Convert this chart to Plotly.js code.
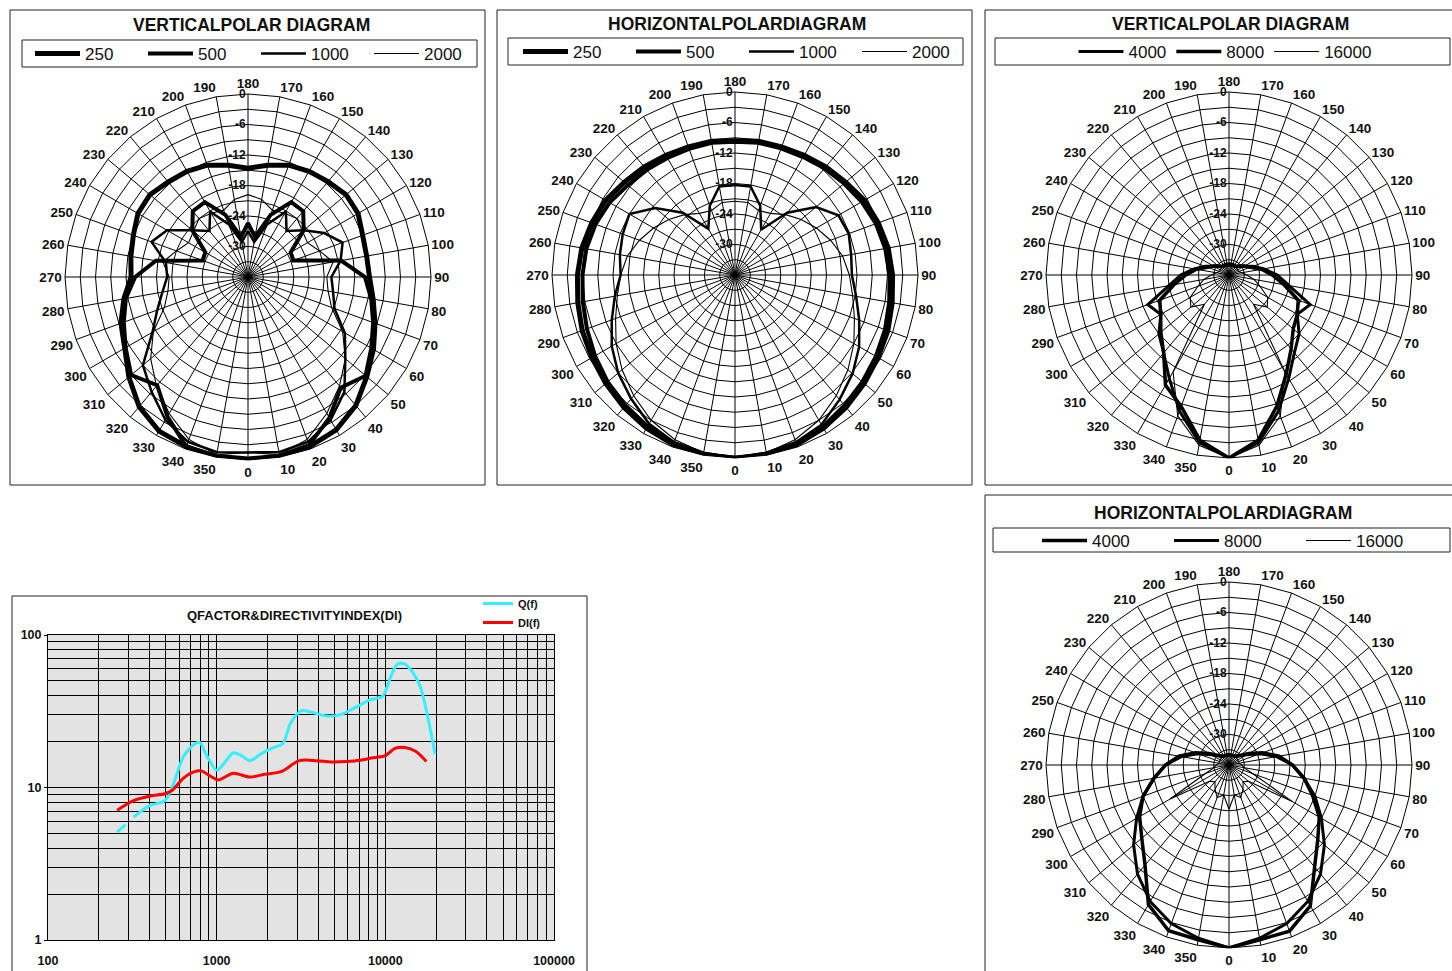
<!DOCTYPE html>
<html><head><meta charset="utf-8">
<script src="https://cdn.plot.ly/plotly-3.0.1.min.js"></script>
<style>html,body{margin:0;padding:0;background:#fff;overflow:hidden}#chart{width:1452px;height:971px}</style>
</head><body><div id="chart"></div>
<script>
// ---------- data ----------
const ANGLES = ['0','10','20','30','40','50','60','70','80','90','100','110','120','130','140','150','160','170',
  '180','190','200','210','220','230','240','250','260','270','280','290','300','310','320','330','340','350'];
const RADIAL_TICKS = [-36,-33,-30,-27,-24,-21,-18,-15,-12,-9,-6,-3,0];
const RADIAL_LABELS = ['','','-30','','-24','','-18','','-12','','-6','','0'];
const LOW_FREQS = ['250','500','1000','2000'];
const HIGH_FREQS = ['4000','8000','16000'];

// Vertical polar, low frequencies (dB)
const VP_250  = [0,0,-0.5,-1.3,-3,-5.5,-7.5,-9.4,-11,-12.1,-12.3,-12,-11,-10.8,-11.5,-12,-12.6,-13.7,-14.6,-13.7,-12.6,-12,-11.6,-10.8,-11,-12,-12.6,-13,-11.2,-9.4,-8,-5.4,-2.7,-1,-0.5,0];
const VP_500  = [-0.3,-0.3,-0.8,-4,-7.6,-5.8,-8,-9.8,-11.4,-13,-17.4,-26.5,-26.3,-21.7,-19.1,-19,-23,-28,-25.4,-28,-23,-19,-19.1,-21.7,-26.3,-26.5,-17.6,-13.8,-11.6,-10,-8.2,-6,-8.2,-4.3,-0.5,-0.3];
const VP_1000 = [-1.5,-1,-1.5,-3.5,-6.5,-11,-14,-17.9,-19,-19.6,-17.5,-16.2,-18.7,-21.7,-24.2,-21.1,-25,-29,-27,-29,-25,-21.1,-24.2,-21.7,-17.6,-15.8,-19.6,-20.1,-18.9,-17,-14.3,-9,-6.5,-3.5,-1.5,-1];
const VP_2000 = [-1.5,-0.5,-2,-5,-8,-11,-14.5,-18.5,-20,-20.5,-19,-21,-22.5,-22,-21,-21.5,-22,-20.5,-19.8,-20.5,-22,-21.5,-21,-22,-22.5,-21,-19,-20.5,-20,-18.5,-14.5,-11,-8,-5,-2,-0.5];

// Horizontal polar, low frequencies (dB)
const HP_250  = [0,0,-0.5,-1.2,-2,-2.8,-3.5,-4,-4.6,-5,-5.4,-6,-6.6,-7.6,-8.2,-8.8,-9.2,-9.3,-9.6,-9.3,-9.2,-8.8,-8.2,-7.6,-6.6,-6,-5.4,-5,-4.6,-4,-3.5,-2.8,-2,-1.2,-0.5,0];
const HP_500  = [0,-0.3,-0.8,-1.5,-2.5,-3.3,-4,-4.6,-5.2,-5.6,-6,-6.5,-7.2,-8,-8.6,-9.2,-9.5,-9.6,-9.8,-9.6,-9.6,-9.4,-9,-8.5,-7.5,-6.8,-6.3,-6,-5.6,-5,-4.2,-3.3,-2.5,-1.6,-0.8,-0.3];
const HP_1000 = [0,-0.5,-1,-2,-4,-5.8,-7.8,-10,-11.8,-13,-12.8,-12.2,-12.5,-15.2,-20,-25.7,-21.5,-18.3,-18.3,-18.3,-21.5,-25.5,-20,-15.5,-12,-12.5,-13,-13.5,-12,-10.2,-8,-6,-4.2,-2.2,-1,-0.5];
const HP_2000 = [0,-0.5,-1.5,-3,-5,-7,-9,-11,-12.5,-13.5,-14.5,-16,-17.5,-19,-20.5,-22,-22.5,-21.5,-21.5,-21.5,-22.5,-22,-20.5,-19,-17.5,-16,-14.5,-13.5,-12.5,-11,-9,-7,-5,-3,-1.5,-0.5];

// Vertical polar, high frequencies (dB)
const VH_4000  = [0,-2.5,-7.5,-12.5,-16,-18,-20.5,-19,-24,-26.5,-29,-31,-32.5,-33.2,-33.8,-33.8,-33.8,-33.8,-33.8,-33.8,-33.8,-33.8,-33.8,-33.2,-32.5,-31,-29,-26.5,-24,-19,-20.5,-18,-16,-12.5,-7.5,-2.5];
const VH_8000  = [0,-3,-8.5,-13.5,-17,-19.5,-20.5,-21.5,-25,-27.5,-29.5,-31.5,-32.5,-33.3,-33.8,-34,-34,-34,-34,-34,-34,-34,-33.8,-33.3,-32.5,-31.5,-29.5,-27.5,-25,-21.5,-20.5,-18.5,-16,-11,-8.5,-3];
const VH_16000 = [0,-2,-6.5,-14,-28.5,-26.2,-27.2,-29.5,-31,-32.5,-33.5,-34,-34,-34,-34,-34,-34,-34,-34,-34,-34,-34,-34,-34,-34,-34,-33.5,-32.5,-31,-29.5,-27.2,-26.2,-28.5,-14,-6.5,-2];

// Horizontal polar, high frequencies (dB)
const HH_4000  = [0,-1.1,-1.2,-4,-9.8,-13.2,-15.5,-18.5,-21,-23.5,-26,-29,-31.5,-33,-33.6,-34,-34,-34,-34,-34,-34,-34,-33.6,-33,-31.5,-29,-26,-23.5,-21,-18,-15.7,-13.6,-10.3,-4.3,-1.3,-1.1];
const HH_8000  = [0,-1.4,-2.8,-5,-8,-11.5,-15,-18,-21,-23.5,-26.5,-29.5,-32,-33.2,-33.8,-34,-34,-34,-34,-34,-34,-34,-33.8,-33.2,-32,-29.5,-26.5,-23.5,-21,-18,-15,-11.5,-8,-5,-2.8,-1.4];
const HH_16000 = [-27.3,-30,-29.2,-30.5,-31.7,-31,-21.6,-31,-33,-33.5,-34,-34,-34,-34,-34,-34,-34,-34,-34,-34,-34,-34,-34,-34,-34,-34,-34,-33.5,-33,-31,-22.6,-31,-31.7,-30.5,-29.2,-30];

// Q factor & directivity index
const Q_FREQ = [257,288,305,322,400,494,546,635,739,797,860,1000,1106,1254,1387,1574,1831,2128,2477,2739,3186,3706,4533,5544,6786,8094,9656,10670,11800,13050,14440,16140,17660,19720];
const Q_VAL  = [5.1,5.7,null,6.4,7.6,8.2,10.1,15.9,19.3,19.7,16.7,13.0,14.4,16.9,16.3,15.0,16.6,18.1,19.5,26.4,31.9,31.0,29.4,30.3,33.9,37.5,39.8,52,64.5,64.5,57.5,45.8,30.6,16.6];
const DI_FREQ = [257,322,404,494,546,635,739,817,925,1025,1254,1574,1920,2410,3090,3900,4780,5840,7130,8270,9890,11500,13050,15200,17500];
const DI_VAL  = [7.1,8.2,8.8,9.1,9.6,11.5,12.7,12.8,11.8,11.2,12.4,11.7,12.2,12.7,15.0,15.0,14.7,14.8,15.1,15.6,16.1,18.1,18.3,17.2,14.8];

const X_MAJOR = [100,1000,10000,100000];
const X_LABELS = ['100','1000','10000','100000'];
const X_MINOR = [200,300,400,500,600,700,800,900,2000,3000,4000,5000,6000,7000,8000,9000,20000,30000,40000,50000,60000,70000,80000,90000];
const Y_MAJOR = [1,10,100];
const Y_LABELS = ['1','10','100'];
const Y_MINOR = [2,3,4,5,6,7,8,9,20,30,40,50,60,70,80,90];

// ---------- layout helpers ----------
const W = 1452, H = 971;
const FONT = 'Liberation Sans, Arial, Helvetica, sans-serif';
const fx = px => px / W;
const fy = py => 1 - py / H;

function polarCfg(cx, cy, r) {
  return {
    domain: {x: [fx(cx - r), fx(cx + r)], y: [fy(cy + r), fy(cy - r)]},
    bgcolor: '#ffffff',
    gridshape: 'linear',
    angularaxis: {
      type: 'category', categoryorder: 'array', categoryarray: ANGLES,
      rotation: 270, direction: 'counterclockwise',
      tickmode: 'linear', tick0: 0, dtick: 1,
      showline: true, linecolor: '#000', linewidth: 1,
      showgrid: true, gridcolor: '#000', gridwidth: 1, ticks: '',
      tickfont: {family: FONT, size: 13.5, color: '#111', weight: 'bold'}
    },
    radialaxis: {
      range: [-36, 0], tickmode: 'array', tickvals: RADIAL_TICKS, ticktext: RADIAL_LABELS,
      angle: 90, tickangle: 90, side: 'counterclockwise', showticklabels: true,
      showline: false, showgrid: true, gridcolor: '#000', gridwidth: 1, ticks: '',
      tickfont: {family: FONT, size: 12, color: '#111', weight: 'bold'}
    }
  };
}

function polarTrace(vals, name, width, subplot, legend) {
  return {
    type: 'scatterpolar', mode: 'lines',
    theta: ANGLES.concat([ANGLES[0]]), r: vals.concat([vals[0]]),
    name: name, subplot: subplot, legend: legend,
    line: {color: '#000', width: width}, hoverinfo: 'skip'
  };
}

const LOW_W = [5, 4, 2.5, 1.1];
const traces = [];
[VP_250, VP_500, VP_1000, VP_2000].forEach((v, i) => traces.push(polarTrace(v, LOW_FREQS[i], LOW_W[i], 'polar', 'legend')));
[HP_250, HP_500, HP_1000, HP_2000].forEach((v, i) => traces.push(polarTrace(v, LOW_FREQS[i], LOW_W[i], 'polar2', 'legend2')));
[VH_4000, VH_8000, VH_16000].forEach((v, i) => traces.push(polarTrace(v, HIGH_FREQS[i], [3, 3.5, 1.1][i], 'polar3', 'legend3')));
[HH_4000, HH_8000, HH_16000].forEach((v, i) => traces.push(polarTrace(v, HIGH_FREQS[i], [3.5, 3, 1.1][i], 'polar4', 'legend4')));

traces.push({type: 'scatter', mode: 'lines', x: Q_FREQ, y: Q_VAL, name: 'Q(f)', legend: 'legend5',
  line: {color: '#33f0ff', width: 3, shape: 'spline', smoothing: 0.8}, connectgaps: false, xaxis: 'x', yaxis: 'y'});
traces.push({type: 'scatter', mode: 'lines', x: DI_FREQ, y: DI_VAL, name: 'DI(f)', legend: 'legend5',
  line: {color: '#ff0000', width: 3, shape: 'spline', smoothing: 0.8}, xaxis: 'x', yaxis: 'y'});

function rect(x0, y0, x1, y1) {
  return {type: 'rect', xref: 'paper', yref: 'paper', x0: fx(x0), x1: fx(x1), y0: fy(y1), y1: fy(y0),
    line: {color: '#222', width: 1}, fillcolor: 'rgba(0,0,0,0)', layer: 'below'};
}
function title(text, x, y, size) {
  return {text: text, xref: 'paper', yref: 'paper', x: fx(x), y: fy(y), xanchor: 'center', yanchor: 'middle',
    showarrow: false, font: {family: FONT, size: size, color: '#111', weight: 'bold'}};
}
function legendCfg(x, y, xanchor, entrywidth, orient, font) {
  return {orientation: orient, x: fx(x), y: fy(y), xanchor: xanchor, yanchor: 'middle',
    entrywidth: entrywidth, entrywidthmode: 'pixels', itemwidth: 45, bgcolor: 'rgba(0,0,0,0)',
    borderwidth: 0, font: font, traceorder: 'normal', itemclick: false, itemdoubleclick: false};
}
const LEG_FONT = {family: FONT, size: 17, color: '#111'};
const AX_FONT = {family: FONT, size: 12.5, color: '#111', weight: 'bold'};

const layout = {
  width: W, height: H, margin: {l: 0, r: 0, t: 0, b: 0},
  paper_bgcolor: '#fff', plot_bgcolor: '#e3e3e3', showlegend: true,
  font: {family: FONT, color: '#111'},
  polar: polarCfg(248, 277, 183),
  polar2: polarCfg(735, 275, 183),
  polar3: polarCfg(1229, 275, 183),
  polar4: polarCfg(1229, 765, 183),
  xaxis: {type: 'log', range: [2, 5], domain: [fx(48), fx(554)], anchor: 'y',
    tickmode: 'array', tickvals: X_MAJOR, ticktext: X_LABELS, ticks: '', ticklabelstandoff: 9,
    showgrid: true, gridcolor: '#000', gridwidth: 1, showline: true, linecolor: '#000', mirror: true, zeroline: false,
    minor: {tickmode: 'array', tickvals: X_MINOR, showgrid: true, gridcolor: '#000', gridwidth: 1, ticks: ''},
    tickfont: AX_FONT},
  yaxis: {type: 'log', range: [0, 2], domain: [fy(940), fy(635)], anchor: 'x',
    tickmode: 'array', tickvals: Y_MAJOR, ticktext: Y_LABELS, ticks: 'outside', ticklen: 3, tickcolor: '#000',
    showgrid: true, gridcolor: '#000', gridwidth: 1, showline: true, linecolor: '#000', mirror: true, zeroline: false,
    minor: {tickmode: 'array', tickvals: Y_MINOR, showgrid: true, gridcolor: '#000', gridwidth: 1, ticks: ''},
    tickfont: AX_FONT},
  legend: legendCfg(30, 54, 'left', 53, 'h', LEG_FONT),
  legend2: legendCfg(518, 52, 'left', 53, 'h', LEG_FONT),
  legend3: legendCfg(1225, 52, 'center', 0, 'h', LEG_FONT),
  legend4: legendCfg(1037, 541, 'left', 72, 'h', LEG_FONT),
  legend5: Object.assign(legendCfg(478, 613, 'left', 0, 'v', {family: FONT, size: 11, color: '#111', weight: 'bold'}), {itemwidth: 30, tracegroupgap: 0}),
  shapes: [
    rect(10, 10, 485, 485), rect(497, 10, 972, 485), rect(985, 10, 1462, 485), rect(985, 495, 1462, 985), rect(12, 596, 587, 985),
    rect(22, 40, 477, 67), rect(508, 38, 963, 65), rect(995, 38, 1450, 65), rect(993, 528, 1450, 552)
  ],
  annotations: [
    title('VERTICALPOLAR DIAGRAM', 251, 25, 17.5),
    title('HORIZONTALPOLARDIAGRAM', 737, 24, 17.5),
    title('VERTICALPOLAR DIAGRAM', 1230, 24, 17.5),
    title('HORIZONTALPOLARDIAGRAM', 1223, 513, 17.5),
    title('QFACTOR&amp;DIRECTIVITYINDEX(DI)', 294, 615, 13)
  ]
};

Plotly.newPlot('chart', traces, layout, {displayModeBar: false, staticPlot: true});
</script></body></html>
